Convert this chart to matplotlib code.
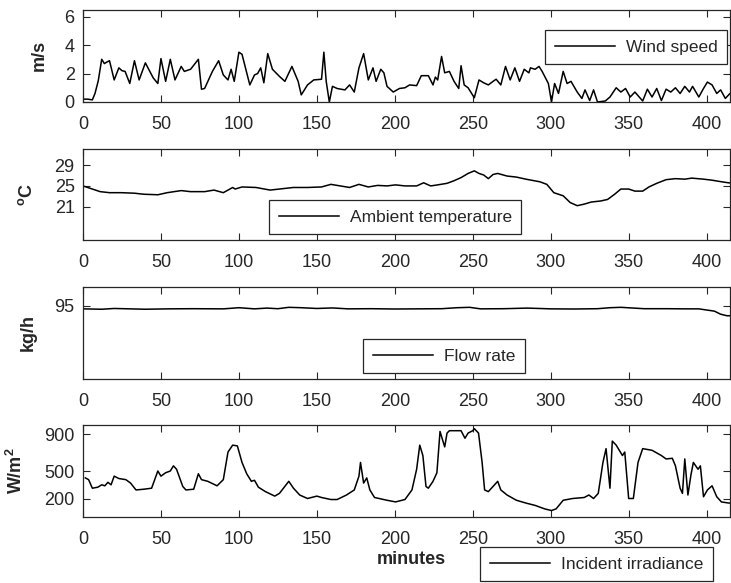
import matplotlib
matplotlib.use("Agg")
import matplotlib.pyplot as plt

plt.rcParams["font.family"] = ["Liberation Sans", "DejaVu Sans"]
plt.rcParams["mathtext.fontset"] = "custom"
plt.rcParams["mathtext.rm"] = "Liberation Sans"
plt.rcParams["mathtext.bf"] = "Liberation Sans:bold"

# ---- wind speed (m/s) ----
wind_t = [0, 3, 6, 7.7, 9.8, 12, 13.7, 15.2, 17, 20, 23, 25, 27, 30, 33, 36, 40, 45, 48, 50,
          53, 56, 59, 63, 65, 69, 74, 76, 78, 83, 87, 90, 93, 95, 97, 100, 102, 107, 110, 112,
          114, 116, 118.5, 121.5, 126, 129.5, 134, 138, 140, 144, 148, 153, 154.5, 156, 158, 160,
          163, 168, 171, 174, 177, 180, 183, 186, 188, 191, 193, 195, 199, 203, 206.5, 209.5,
          214, 217, 221.5, 224.5, 226, 227.5, 230, 232, 235, 238, 241, 242.5, 244.5, 247, 251,
          254, 257, 260, 263, 265, 268, 271, 274, 277, 280, 283, 286, 287, 290, 292.5, 294.5,
          298.5, 300.5, 302.5, 305, 308, 310.5, 313, 317, 320, 322, 325, 327.5, 330, 335, 338,
          342, 345, 348, 351, 354, 359, 362, 365, 368, 371, 374, 377, 380, 383, 386, 389, 391,
          395, 398, 400.5, 403.5, 406.5, 409, 412, 415, 418]
wind_v = [0.2, 0.2, 0.15, 0.6, 1.5, 3.0, 2.7, 2.8, 2.9, 1.55, 2.4, 2.2, 2.15, 1.3, 2.9, 1.55,
          2.75, 1.7, 1.3, 3.05, 1.45, 3.0, 1.55, 2.5, 2.15, 2.3, 3.0, 0.9, 0.95, 2.15, 2.9, 1.9,
          1.55, 2.3, 1.45, 3.5, 3.35, 1.2, 1.9, 2.0, 2.4, 1.35, 3.4, 2.3, 1.8, 1.45, 2.5, 1.45,
          0.5, 1.2, 1.55, 1.6, 3.5, 1.45, 0.0, 1.1, 0.95, 0.85, 1.2, 0.7, 2.4, 3.4, 1.55, 2.4,
          1.45, 2.3, 2.05, 1.1, 0.7, 0.95, 1.0, 1.2, 1.15, 1.85, 1.85, 1.2, 1.75, 1.55, 3.2,
          2.05, 2.15, 1.45, 0.95, 2.55, 1.2, 1.0, 0.3, 1.55, 1.35, 1.2, 1.45, 1.6, 1.2, 2.5,
          1.55, 2.4, 1.45, 2.3, 2.05, 2.4, 2.3, 2.5, 2.15, 1.3, 0.0, 1.3, 0.6, 2.15, 1.3, 1.45,
          0.7, 0.25, 0.85, 0.1, 0.85, 0.0, 0.07, 0.35, 1.0, 0.7, 0.95, 0.35, 0.7, 0.07, 0.9,
          0.35, 0.95, 0.1, 0.9, 0.7, 1.0, 0.6, 1.1, 0.7, 1.1, 0.35, 0.95, 1.4, 1.2, 0.6, 0.85,
          0.25, 0.6, 0.5]

# ---- ambient temperature (degC) ----
temp_t = [0, 3, 6, 11, 17, 24.5, 33, 39, 48, 54, 63, 69, 78, 84, 90, 96, 97.6, 102, 111, 120,
          126, 135, 144, 153, 159, 165, 171, 177, 183, 189, 195, 200.5, 206.5, 214, 218.5, 223,
          227.5, 233.5, 238, 242.5, 247, 251, 254, 257, 260, 263, 266, 272, 278, 284, 293,
          297.5, 302, 308, 312.5, 317, 321.5, 326, 332, 336.5, 341, 345, 350, 354, 359, 363,
          368, 374, 380, 386, 390.5, 398, 403.5, 409.5, 414, 418]
temp_v = [25.0, 24.7, 24.4, 23.9, 23.7, 23.7, 23.6, 23.4, 23.3, 23.7, 24.1, 23.9, 23.9, 24.2,
          23.7, 24.7, 24.4, 24.8, 24.7, 24.2, 24.4, 24.7, 24.7, 24.8, 25.3, 25.0, 24.7, 25.3,
          24.8, 25.1, 25.0, 25.2, 25.0, 25.0, 25.6, 25.0, 25.2, 25.5, 26.0, 26.6, 27.4, 27.9,
          27.4, 27.1, 26.4, 27.2, 27.4, 26.9, 26.7, 26.3, 25.8, 25.3, 23.7, 23.1, 21.8, 21.2,
          21.5, 21.9, 22.1, 22.4, 23.4, 24.4, 24.4, 24.0, 24.0, 24.8, 25.5, 26.2, 26.4, 26.3,
          26.5, 26.3, 26.1, 25.8, 25.6, 25.5]

# ---- flow rate (kg/h) ----
flow_t = [0, 12, 20, 30, 40, 55, 70, 90, 100, 110, 118, 125, 132, 140, 150, 160, 170, 185,
          200, 215, 230, 240, 248, 255, 270, 285, 300, 315, 330, 338, 345, 360, 375, 385, 395,
          400, 405, 409, 413, 418]
flow_v = [94.6, 94.55, 94.65, 94.6, 94.55, 94.6, 94.62, 94.6, 94.75, 94.6, 94.7, 94.62, 94.8,
          94.75, 94.65, 94.72, 94.6, 94.62, 94.58, 94.6, 94.62, 94.75, 94.8, 94.6, 94.62,
          94.7, 94.6, 94.58, 94.62, 94.75, 94.8, 94.62, 94.62, 94.6, 94.6, 94.45, 94.3, 93.9,
          93.7, 93.7]

# ---- incident irradiance (W/m^2) ----
irr_t = [1.5, 3.6, 6, 9.5, 12, 14, 16, 18, 20, 23, 27.5, 30.5, 34, 39, 44, 48, 50, 53, 56, 58,
         60, 64, 66, 71, 74, 76, 80, 86, 90, 93, 96, 99, 102, 105, 108, 110, 112.5, 117, 123,
         126, 132, 135, 139, 144, 150, 153, 159, 163, 169, 174, 177, 178, 180, 182, 184, 187,
         195, 200.5, 206.5, 211, 214, 216, 218, 220, 221.5, 224.5, 227, 229, 232, 233.5, 235,
         242.5, 245, 247, 250, 251, 253.7, 256, 257.6, 260, 263, 266, 268, 272, 278, 284, 290,
         296, 300.5, 303.5, 308, 314, 321.5, 324.5, 327.5, 330.5, 333.5, 335.5, 338, 339.5,
         342, 346, 347.5, 350, 353, 356, 359, 365, 371, 374, 378, 380, 383, 384.5, 386, 388,
         390, 391.5, 394.5, 396, 398, 400.5, 403.5, 406.5, 409.5, 414, 418]
irr_v = [425, 406, 313, 324, 350, 339, 377, 350, 444, 418, 406, 369, 294, 302, 313, 500, 444,
         481, 500, 556, 519, 332, 294, 302, 470, 406, 388, 339, 406, 706, 781, 773, 593, 470,
         388, 399, 324, 276, 227, 257, 388, 313, 239, 201, 227, 212, 190, 190, 239, 294, 444,
         593, 369, 425, 294, 212, 182, 164, 190, 294, 519, 781, 668, 332, 313, 388, 481, 930,
         762, 912, 938, 938, 856, 912, 938, 960, 912, 593, 294, 276, 332, 388, 294, 239, 182,
         152, 126, 89, 70, 89, 182, 201, 212, 239, 201, 257, 593, 743, 313, 825, 781, 668, 706,
         201, 201, 593, 743, 725, 668, 631, 638, 556, 313, 257, 631, 239, 463, 593, 519, 556,
         220, 294, 339, 220, 164, 152, 150]

x_ticks = [0, 50, 100, 150, 200, 250, 300, 350, 400]

W, H = 731, 583
fig = plt.figure(figsize=(W / 100, H / 100), dpi=100)

left_px, right_px = 83, 730
panels = [  # (top px, bottom px)
    (9.5, 102),
    (149, 240),
    (287, 378.7),
    (425, 517),
]

axes = []
for top, bot in panels:
    ax = fig.add_axes([left_px / W, 1 - bot / H, (right_px - left_px) / W, (bot - top) / H])
    axes.append(ax)

ink = "#262626"
series = [
    (wind_t, wind_v, "Wind speed", (0, 6.5), [0, 2, 4, 6], "m/s", -0.054),
    (temp_t, temp_v, "Ambient temperature", (14.6, 32.1), [21, 25, 29], r"$\mathbf{^{o}C}$", -0.072),
    (flow_t, flow_v, "Flow rate", (85.46, 97.46), [95], "kg/h", -0.071),
    (irr_t, irr_v, "Incident irradiance", (0, 1000), [200, 500, 900], r"$\mathbf{W/m^2}$", -0.088),
]

for ax, (t, v, name, ylim, yt, ylab, lx) in zip(axes, series):
    ax.plot(t, v, color="black", lw=1.1, label=name)
    ax.set_xlim(0, 415)
    ax.set_ylim(*ylim)
    ax.set_xticks(x_ticks)
    ax.set_yticks(yt)
    ax.tick_params(direction="in", length=5, width=0.8, color=ink, labelcolor=ink,
                   top=True, right=True, labelsize=13)
    ax.tick_params(axis="x", pad=10)
    ax.tick_params(axis="y", pad=6)
    for s in ax.spines.values():
        s.set_color(ink)
        s.set_linewidth(0.9)
    ax.set_ylabel(ylab, fontsize=13, fontweight="bold", color=ink)
    ax.yaxis.set_label_coords(lx, 0.5)

leg_kw = dict(fontsize=12.5, frameon=True, fancybox=False, framealpha=1, edgecolor=ink,
              handlelength=3.5, handletextpad=0.6, borderpad=0.55,
              bbox_transform=fig.transFigure, borderaxespad=0)

l1 = axes[0].legend(loc="upper right", bbox_to_anchor=(727 / W, 1 - 30 / H), **leg_kw)
l2 = axes[1].legend(loc="upper left", bbox_to_anchor=(269 / W, 1 - 200 / H), **leg_kw)
l3 = axes[2].legend(loc="upper left", bbox_to_anchor=(363 / W, 1 - 339 / H), **leg_kw)
l4 = axes[3].legend(loc="upper left", bbox_to_anchor=(480 / W, 1 - 547 / H), **leg_kw)
for lg in (l1, l2, l3, l4):
    lg.get_frame().set_linewidth(0.9)
    for txt in lg.get_texts():
        txt.set_color(ink)

fig.text(((left_px + right_px) / 2 + 5) / W, 1 - 560 / H, "minutes", ha="center", va="center",
         fontsize=13, fontweight="bold", color=ink)

fig.savefig("out.png", dpi=100)
